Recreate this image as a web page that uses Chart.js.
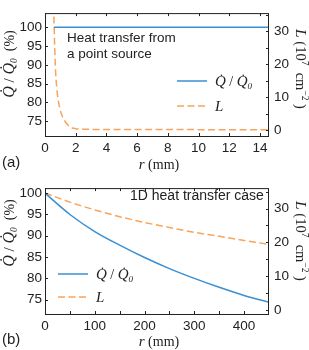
<!DOCTYPE html>
<html>
<head>
<meta charset="UTF-8">
<title>Heat transfer</title>
<script src="https://cdn.jsdelivr.net/npm/chart.js@4.4.0/dist/chart.umd.min.js"></script>
<style>
    body { margin: 0; background: #fff; }
    .panel { position: relative; width: 309px; height: 175px; }
</style>
</head>
<body>
<div class="panel"><canvas id="chartA" width="309" height="175"></canvas></div>
<div class="panel"><canvas id="chartB" width="309" height="175"></canvas></div>
<script>
// (a) heat transfer from a point source
const rA_q = [0.58, 14.6];
const qA = [100, 100];
const rA_l = [0.58, 0.62, 0.65, 0.70, 0.76, 0.85, 0.98, 1.15, 1.3, 1.5, 1.7, 2.0, 2.5, 3, 5, 8, 11, 14.6];
const lA = [34.5, 27, 22.4, 17, 13.2, 9.5, 6.4, 4.0, 2.8, 1.6, 0.9, 0.55, 0.4, 0.33, 0.28, 0.26, 0.25, 0.25];
const xTicksA = [0, 2, 4, 6, 8, 10, 12, 14];

// (b) 1D heat transfer case
const rB = [0, 50, 100, 150, 200, 250, 300, 350, 400, 450];
const qB = [100, 95.0, 91.0, 87.8, 84.9, 82.3, 80.0, 77.9, 76.0, 74.4];
const lB = [34.6, 31.9, 29.6, 27.6, 25.9, 24.4, 23.0, 21.8, 20.6, 19.4];
const xTicksB = [0, 100, 200, 300, 400];
const xMinorB = [50, 150, 250, 350];

const qTicks = [75, 80, 85, 90, 95, 100];
const lTicks = [0, 5, 10, 15, 20, 25, 30, 35];

const BLUE = '#3a8fd2';
const ORANGE = '#f7a45c';
const SANS = '"Liberation Sans", Arial, sans-serif';
const SERIF = '"Liberation Serif", "Times New Roman", serif';
const INK = '#222';

const it = s => 'italic ' + s + 'px ' + SERIF;
const rm = s => s + 'px ' + SERIF;

const qLabel = [
    {t: 'Q\u0307', font: it(15)},
    {t: ' / ', font: rm(14)},
    {t: 'Q\u0307', font: it(15)},
    {t: '0', font: it(9), dy: 3}
];
const lLabel = [{t: 'L', font: it(15)}];
const yTitle = [
    {t: 'Q\u0307', font: it(16)},
    {t: ' / ', font: rm(15)},
    {t: 'Q\u0307', font: it(16)},
    {t: '0', font: it(9.5), dy: 3},
    {t: '  (%)', font: rm(14)}
];
const y1Title = [
    {t: 'L', font: it(15.5)},
    {t: ' (10', font: rm(14.5)},
    {t: '7', font: rm(9.5), dy: -6},
    {t: '  cm', font: rm(14.5)},
    {t: '\u22122', font: rm(9.5), dy: -6},
    {t: ' )', font: rm(14.5)}
];
const xTitle = [{t: 'r', font: it(15)}, {t: ' (mm)', font: rm(14)}];

function runsWidth(ctx, runs) {
    let w = 0;
    for (const r of runs) { ctx.font = r.font; w += ctx.measureText(r.t).width; }
    return w;
}
function drawRuns(ctx, runs, x, y) {
    for (const r of runs) {
        ctx.font = r.font;
        ctx.fillText(r.t, x, y + (r.dy || 0));
        x += ctx.measureText(r.t).width;
    }
}
function drawRunsAt(ctx, runs, cx, cy, angle) {
    ctx.save();
    ctx.translate(cx, cy);
    ctx.rotate(angle);
    drawRuns(ctx, runs, -runsWidth(ctx, runs) / 2, 0);
    ctx.restore();
}

const decor = {
    id: 'decor',
    afterDraw(chart, args, o) {
        const {ctx, chartArea: a, scales} = chart;
        ctx.save();
        ctx.strokeStyle = INK;
        ctx.lineWidth = 1;
        ctx.strokeRect(a.left + 0.5, a.top + 0.5, a.right - a.left - 1, a.bottom - a.top);

        // inward ticks
        ctx.beginPath();
        for (const v of o.xTicks.concat(o.xMinor || [])) {
            const px = Math.round(scales.x.getPixelForValue(v)) + 0.5;
            ctx.moveTo(px, a.bottom); ctx.lineTo(px, a.bottom - 3);
            ctx.moveTo(px, a.top); ctx.lineTo(px, a.top + 3);
        }
        for (const v of qTicks) {
            const py = Math.round(scales.y.getPixelForValue(v)) + 0.5;
            ctx.moveTo(a.left, py); ctx.lineTo(a.left + 3, py);
        }
        for (const v of lTicks) {
            const py = Math.round(scales.y1.getPixelForValue(v)) + 0.5;
            ctx.moveTo(a.right, py); ctx.lineTo(a.right - 3, py);
        }
        ctx.stroke();

        ctx.fillStyle = INK;
        ctx.textBaseline = 'alphabetic';
        ctx.textAlign = 'left';
        // axis titles
        drawRunsAt(ctx, yTitle, 14, o.yTitleY, -Math.PI / 2);
        drawRunsAt(ctx, y1Title, 296, o.y1TitleY, Math.PI / 2);
        drawRunsAt(ctx, xTitle, 159, o.xTitleY, 0);

        // panel label
        ctx.font = '15px ' + SANS;
        ctx.fillText(o.panel, 2, o.panelY);

        // note
        ctx.font = o.noteFont + 'px ' + SANS;
        o.note.forEach((line, i) => ctx.fillText(line, o.noteX, o.noteY + i * 16));

        // legend
        const labels = [qLabel, lLabel];
        chart.data.datasets.forEach((ds, i) => {
            const y = o.legY + i * o.legGap;
            ctx.strokeStyle = ds.borderColor;
            ctx.lineWidth = ds.borderWidth;
            ctx.setLineDash(ds.borderDash || []);
            ctx.beginPath();
            ctx.moveTo(o.legX, y); ctx.lineTo(o.legX + 30, y);
            ctx.stroke();
            ctx.setLineDash([]);
            ctx.fillStyle = INK;
            drawRuns(ctx, labels[i], o.legX + 38, y + 5);
        });
        ctx.restore();
    }
};

const pts = (xs, ys) => xs.map((x, i) => ({x: x, y: ys[i]}));

function makeChart(id, cfg) {
    return new Chart(document.getElementById(id), {
        type: 'line',
        data: {
            datasets: [{
                data: pts(cfg.rq, cfg.q),
                yAxisID: 'y',
                borderColor: BLUE,
                borderWidth: 1.5,
                pointRadius: 0,
                cubicInterpolationMode: 'monotone'
            }, {
                data: pts(cfg.rl, cfg.l),
                yAxisID: 'y1',
                borderColor: ORANGE,
                borderWidth: 1.5,
                borderDash: [7, 3.5],
                pointRadius: 0,
                cubicInterpolationMode: 'monotone'
            }]
        },
        options: {
            responsive: false,
            animation: false,
            devicePixelRatio: 1,
            layout: {padding: {top: cfg.top, left: 0, right: 0, bottom: 0}},
            plugins: {
                legend: {display: false},
                tooltip: {enabled: false},
                decor: cfg.decor
            },
            scales: {
                x: {
                    type: 'linear',
                    min: 0,
                    max: cfg.xMax,
                    grid: {display: false, drawTicks: false},
                    border: {display: false},
                    ticks: {font: {family: SANS, size: 13.5}, color: INK, padding: 4},
                    afterBuildTicks: s => { s.ticks = cfg.xTicks.map(v => ({value: v})); },
                    afterFit: s => { s.height = cfg.xHeight; }
                },
                y: {
                    position: 'left',
                    min: cfg.yMin,
                    max: cfg.yMax,
                    grid: {display: false, drawTicks: false},
                    border: {display: false},
                    ticks: {font: {family: SANS, size: 13.5}, color: INK, padding: 3},
                    afterBuildTicks: s => { s.ticks = qTicks.map(v => ({value: v})); },
                    afterFit: s => { s.width = 45; }
                },
                y1: {
                    position: 'right',
                    min: cfg.y1Min,
                    max: cfg.y1Max,
                    grid: {display: false, drawTicks: false},
                    border: {display: false},
                    ticks: {font: {family: SANS, size: 13.5}, color: INK, padding: 5},
                    afterBuildTicks: s => { s.ticks = lTicks.map(v => ({value: v})); },
                    afterFit: s => { s.width = 40; }
                }
            }
        },
        plugins: [decor]
    });
}

makeChart('chartA', {
    rq: rA_q, q: qA, rl: rA_l, l: lA,
    xMax: 14.59, xTicks: xTicksA,
    yMin: 71.07, yMax: 103.76, y1Min: -1.68, y1Max: 35.56,
    top: 3, xHeight: 39,
    decor: {
        xTicks: xTicksA, panel: '(a)', panelY: 167,
        yTitleY: 64, y1TitleY: 69, xTitleY: 169,
        note: ['Heat transfer from', 'a point source'], noteX: 67, noteY: 42, noteFont: 13.5,
        legX: 177, legY: 81, legGap: 25
    }
});

makeChart('chartB', {
    rq: rB, q: qB, rl: rB, l: lB,
    xMax: 450, xTicks: xTicksB,
    yMin: 71.64, yMax: 101.19, y1Min: -1.13, y1Max: 36.04,
    top: 7, xHeight: 36,
    decor: {
        xTicks: xTicksB, xMinor: xMinorB, panel: '(b)', panelY: 169,
        yTitleY: 58, y1TitleY: 66, xTitleY: 171,
        note: ['1D heat transfer case'], noteX: 130, noteY: 25, noteFont: 14,
        legX: 58, legY: 99, legGap: 23
    }
});
</script>
</body>
</html>
